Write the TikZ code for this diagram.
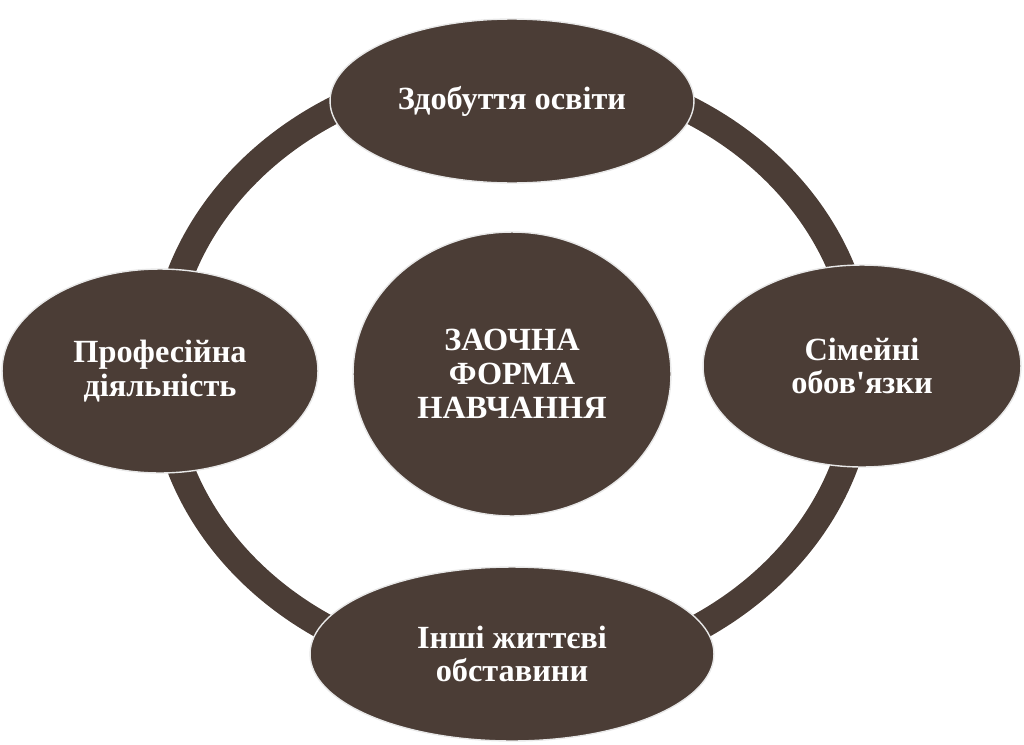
\documentclass[tikz,border=0pt]{standalone}
\usepackage{fontspec}
\setmainfont{Liberation Serif}[Ligatures=TeXOff]
\usetikzlibrary{shapes.geometric}
\definecolor{darkbrown}{RGB}{75,61,54}
\begin{document}
\begin{tikzpicture}[x=0.02cm, y=-0.02cm,
  blob/.style={ellipse, fill=darkbrown, draw=gray!18, line width=0.8pt, inner sep=0pt,
    text=white, align=center, font=\fontsize{18.4}{19.2}\selectfont\bfseries}]
  \useasboundingbox (0,0) rectangle (1024,744);
  % Ring behind everything
  \coordinate (hub) at (512,371);
  \draw[darkbrown, line width=0.54cm] (hub) ellipse [x radius=7cm, y radius=6.06cm];

  % Centre
  \node[blob, minimum width=6.36cm, minimum height=5.68cm] (form) at (512,374) {ЗАОЧНА\\ФОРМА\\НАВЧАННЯ};

  % Four ellipses on the ring
  \node[blob, minimum width=7.28cm, minimum height=3.28cm] (study) at (512,101) {Здобуття освіти};
  \node[blob, minimum width=6.32cm, minimum height=4.08cm] (work) at (160,371) {Професійна\\діяльність};
  \node[blob, minimum width=6.36cm, minimum height=4.04cm] (family) at (862,366) {Сімейні\\обов'язки};
  \node[blob, minimum width=8.08cm, minimum height=3.48cm] (other) at (512,654) {Інші життєві\\обставини};
\end{tikzpicture}
\end{document}
